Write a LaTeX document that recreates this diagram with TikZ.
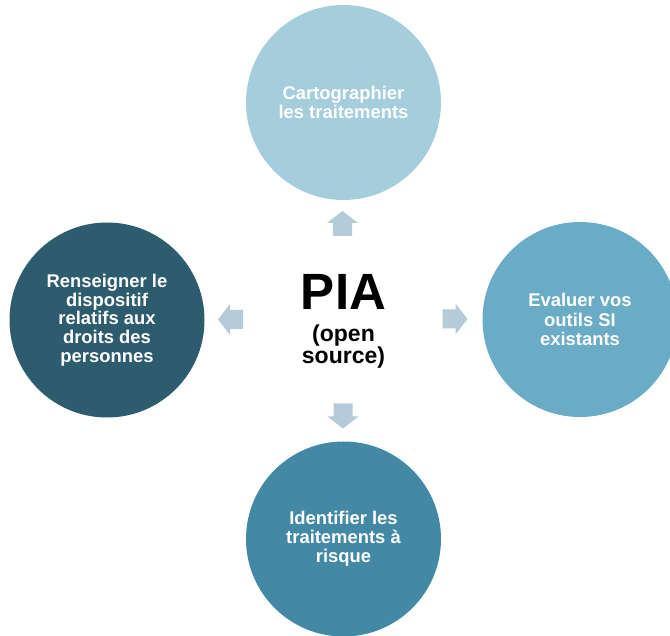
\documentclass[tikz,border=0pt]{standalone}
\usepackage{fontspec}
\setmainfont{Liberation Sans}
\definecolor{ctop}{RGB}{166,205,219}
\definecolor{cright}{RGB}{106,171,197}
\definecolor{cbottom}{RGB}{67,137,165}
\definecolor{cleft}{RGB}{45,92,110}
\definecolor{carrow}{RGB}{181,203,217}
\tikzset{
  circ/.style={circle, minimum size=195pt, inner sep=0pt, align=center, text=white, font=\bfseries},
  blockarrow/.style={fill=carrow, draw=none}
}
\begin{document}
\begin{tikzpicture}[x=1pt, y=-1pt]
\clip (0,0) rectangle (670,636);
\fill[white] (0,0) rectangle (670,636);
% circles
\node[circ, fill=ctop, font=\bfseries\fontsize{18.4}{19.3}\selectfont] (top) at (343.5,102.5) {Cartographier\\les traitements};
\node[circ, fill=cright, font=\bfseries\fontsize{18.4}{19.3}\selectfont] (right) at (580,319.5) {Evaluer vos\\outils SI\\existants};
\node[circ, fill=cbottom, font=\bfseries\fontsize{18.4}{18.8}\selectfont] (bottom) at (343.5,539) {Identifier les\\traitements à\\risque};
\node[circ, fill=cleft, font=\bfseries\fontsize{18.4}{18.75}\selectfont] (left) at (107,320) {Renseigner le\\dispositif\\relatifs aux\\droits des\\personnes};
% centre text
\node[anchor=base, inner sep=0pt, font=\bfseries\fontsize{51}{55}\selectfont] (pia) at (343.5,310) {PIA};
\node[anchor=center, inner sep=0pt, align=center, font=\bfseries\fontsize{23}{22}\selectfont] (sub) at (343.5,347) {(open\\source)};
% block arrows
\coordinate (aup) at (342.5,223.5);
\coordinate (adown) at (343,416);
\coordinate (aleft) at (230.5,319.5);
\coordinate (aright) at (455,319);
\foreach \c/\a in {aup/90, adown/-90, aleft/180, aright/0}{
  \fill[blockarrow, shift={(\c)}, rotate=\a]
    (-12.5,-9.5) -- (0.5,-9.5) -- (0.5,-15.5) -- (12.5,0) -- (0.5,15.5) -- (0.5,9.5) -- (-12.5,9.5) -- cycle;
}
\end{tikzpicture}
\end{document}
